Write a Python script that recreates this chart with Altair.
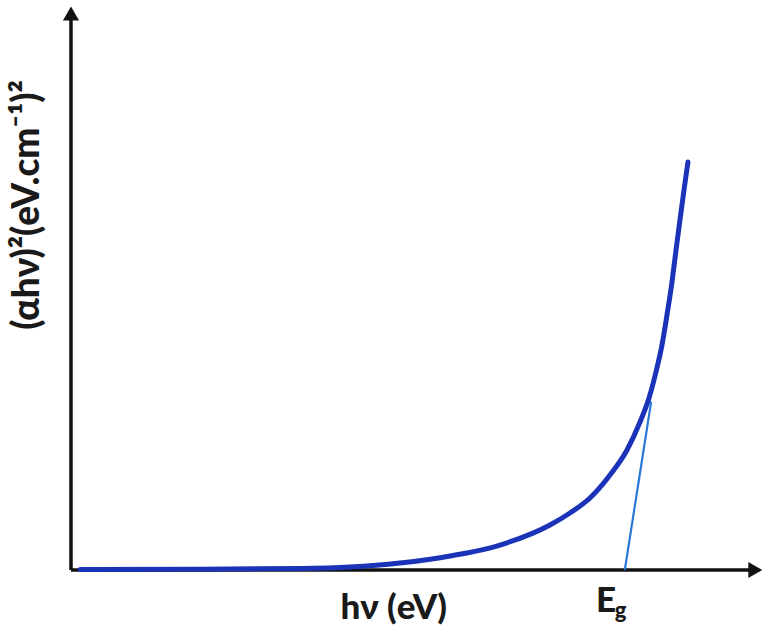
import altair as alt
import pandas as pd

# Absorption curve (arbitrary units)
curve_x = [1.30, 18.59, 33.00, 40.20, 47.41, 54.61, 61.82, 69.02, 71.90, 74.78, 77.67, 80.12,
           81.99, 83.29, 84.29, 85.16, 85.88, 86.60, 87.18, 87.75, 88.33, 88.90]
curve_y = [0.09, 0.15, 0.27, 0.53, 1.24, 2.48, 4.42, 7.96, 10.09, 12.74, 16.81, 21.24,
           26.19, 30.44, 35.04, 39.82, 45.13, 50.97, 56.64, 61.95, 67.26, 72.21]

# Tangent (linear extrapolation) line
tangent_x = [79.8, 83.6]
tangent_y = [0.0, 29.8]

# Axis end points
axis_max_x = 98.0
axis_max_y = 98.0

xdom = [-10.23, 100.29]
ydom = [-11.15, 100.88]
xs = alt.Scale(domain=xdom, nice=False, zero=False)
ys = alt.Scale(domain=ydom, nice=False, zero=False)

curve_df = pd.DataFrame({"x": curve_x, "y": curve_y})
tan_df = pd.DataFrame({"x": tangent_x, "y": tangent_y})

X = lambda f="x": alt.X(f"{f}:Q", scale=xs, axis=None)
Y = lambda f="y": alt.Y(f"{f}:Q", scale=ys, axis=None)

axes_df = pd.DataFrame({"x": [0, 0], "y": [0, 0], "x2": [0, axis_max_x], "y2": [axis_max_y, 0]})
axes = alt.Chart(axes_df).mark_rule(color="#111111", strokeWidth=3.5).encode(
    x=X(), y=Y(), x2="x2:Q", y2="y2:Q"
)

heads_df = pd.DataFrame({"x": [0, axis_max_x + 0.6], "y": [axis_max_y + 0.5, 0], "shape": ["triangle-up", "triangle-right"]})
heads = alt.Chart(heads_df).mark_point(filled=True, color="#111111", size=260, opacity=1).encode(
    x=X(), y=Y(), shape=alt.Shape("shape:N", scale=None)
)

tangent = alt.Chart(tan_df).mark_line(color="#2a78d6", strokeWidth=2.2).encode(x=X(), y=Y())
curve = alt.Chart(curve_df).mark_line(color="#1a33b8", strokeWidth=5, interpolate="monotone", strokeCap="round").encode(x=X(), y=Y())

FONT = "Lato"
TXT = "#1a1a1a"

xlabel_df = pd.DataFrame({"x": [46.5], "y": [-6.7], "t": ["hν (eV)"]})
xlabel = alt.Chart(xlabel_df).mark_text(font=FONT, fontWeight=900, fontSize=35, color=TXT, baseline="middle", align="center").encode(
    x=X(), y=Y(), text="t:N"
)

eg_df = pd.DataFrame({"x": [77.1], "y": [-5.4], "t": ["E"]})
eg = alt.Chart(eg_df).mark_text(font=FONT, fontWeight=900, fontSize=35, color=TXT, baseline="middle", align="center").encode(
    x=X(), y=Y(), text="t:N"
)
g_df = pd.DataFrame({"x": [79.2], "y": [-7.3], "t": ["g"]})
g = alt.Chart(g_df).mark_text(font=FONT, fontWeight=900, fontSize=22, color=TXT, baseline="middle", align="center").encode(
    x=X(), y=Y(), text="t:N"
)

ylabel_df = pd.DataFrame({"x": [-6.2], "y": [64.6], "t": ["(αhν)²(eV.cm⁻¹)²"]})
ylabel = alt.Chart(ylabel_df).mark_text(font=FONT, fontWeight=900, fontSize=37, color=TXT, angle=270, baseline="middle", align="center").encode(
    x=X(), y=Y(), text="t:N"
)

chart = alt.layer(axes, heads, tangent, curve, xlabel, eg, g, ylabel).properties(
    width=767, height=633, padding=0, autosize=alt.AutoSizeParams(type="none"), background="white"
).configure_view(stroke=None)

chart.save("out.html", embed_options={"renderer": "svg", "actions": False})
